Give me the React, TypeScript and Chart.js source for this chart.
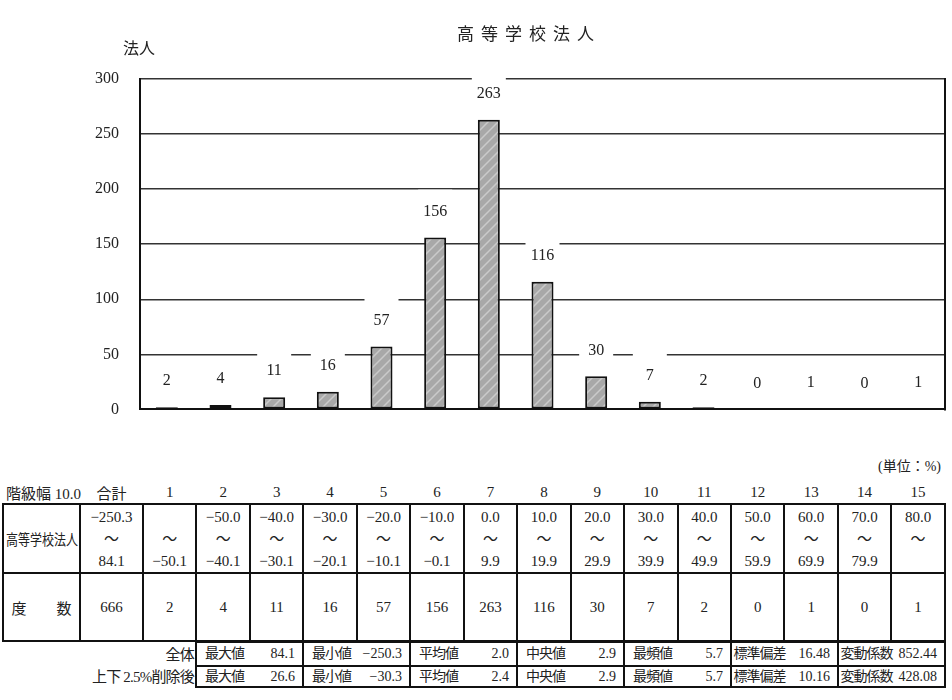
import React, { useEffect, useRef } from "react";
import { Chart, registerables, Plugin } from "chart.js";

Chart.register(...registerables);

// class numbers (categories) and frequencies
const classNumbers = ["1", "2", "3", "4", "5", "6", "7", "8", "9", "10", "11", "12", "13", "14", "15"];
const counts = [2, 4, 11, 16, 57, 156, 263, 116, 30, 7, 2, 0, 1, 0, 1];
const yTicks = [0, 50, 100, 150, 200, 250, 300];

// class ranges (unit: %)
const rangeLower = ["", "−50.0", "−40.0", "−30.0", "−20.0", "−10.0", "0.0", "10.0", "20.0", "30.0", "40.0", "50.0", "60.0", "70.0", "80.0"];
const rangeUpper = ["−50.1", "−40.1", "−30.1", "−20.1", "−10.1", "−0.1", "9.9", "19.9", "29.9", "39.9", "49.9", "59.9", "69.9", "79.9", ""];
const totalRange = ["−250.3", "84.1"];
const totalCount = 666;

// summary statistics
const statLabels = ["最大値", "最小値", "平均値", "中央値", "最頻値", "標準偏差", "変動係数"];
const statsAll = ["84.1", "−250.3", "2.0", "2.9", "5.7", "16.48", "852.44"];
const statsTrimmed = ["26.6", "−30.3", "2.4", "2.9", "5.7", "10.16", "428.08"];

const FONT = "'Liberation Serif', 'Noto Sans CJK JP', serif";

function makeHatch(): CanvasPattern | string {
  const c = document.createElement("canvas");
  c.width = 10;
  c.height = 10;
  const g = c.getContext("2d");
  if (!g) return "#a8a8a8";
  g.fillStyle = "#a8a8a8";
  g.fillRect(0, 0, 10, 10);
  g.strokeStyle = "#cacaca";
  g.lineWidth = 1.5;
  g.beginPath();
  g.moveTo(0, 10);
  g.lineTo(10, 0);
  g.moveTo(-2, 2);
  g.lineTo(2, -2);
  g.moveTo(8, 12);
  g.lineTo(12, 8);
  g.stroke();
  return g.createPattern(c, "repeat") || "#a8a8a8";
}

// value labels with white box behind, plus right frame line
const extrasPlugin: Plugin<"bar"> = {
  id: "extras",
  afterDatasetsDraw(chart) {
    const { ctx, chartArea } = chart;
    ctx.save();
    ctx.strokeStyle = "#111";
    ctx.lineWidth = 2;
    ctx.beginPath();
    ctx.moveTo(chartArea.right, chartArea.top - 1);
    ctx.lineTo(chartArea.right, chartArea.bottom + 1);
    ctx.stroke();

    const meta = chart.getDatasetMeta(0);
    meta.data.forEach((bar, i) => {
      const { x, y } = bar.getProps(["x", "y"], true) as { x: number; y: number };
      const ty = y - 26;
      ctx.fillStyle = "#fff";
      ctx.fillRect(x - 17, ty - 22, 34, 30);
      ctx.fillStyle = "#222";
      ctx.font = `16px ${FONT}`;
      ctx.textAlign = "center";
      ctx.textBaseline = "middle";
      ctx.fillText(String(counts[i]), x, ty);
    });
    ctx.restore();
  },
};

const HistChart: React.FC = () => {
  const chartRef = useRef<HTMLCanvasElement | null>(null);
  const chartInstanceRef = useRef<Chart | null>(null);

  useEffect(() => {
    if (!chartRef.current) return;
    const ctx = chartRef.current.getContext("2d");
    if (!ctx) return;

    chartInstanceRef.current = new Chart(ctx, {
      type: "bar",
      data: {
        labels: classNumbers,
        datasets: [
          {
            data: counts,
            backgroundColor: makeHatch(),
            borderColor: "#111",
            borderWidth: 2,
            borderSkipped: false,
            barPercentage: 0.41,
            categoryPercentage: 1,
          },
        ],
      },
      options: {
        animation: false,
        responsive: false,
        layout: { padding: { top: 79, right: 7, bottom: 22, left: 0 } },
        plugins: {
          legend: { display: false },
          tooltip: { enabled: false },
          title: { display: false },
        },
        scales: {
          x: { display: false },
          y: {
            min: 0,
            max: 300,
            afterFit: (scale) => {
              scale.width = 140;
            },
            afterBuildTicks: (scale) => {
              scale.ticks = yTicks.map((v) => ({ value: v }));
            },
            ticks: {
              color: "#222",
              padding: 21,
              font: { family: FONT, size: 16 },
            },
            grid: {
              color: (c) => (c.tick && c.tick.value === 0 ? "#111" : "#333"),
              lineWidth: (c) => (c.tick && c.tick.value === 0 ? 2 : 1.5),
              drawTicks: false,
            },
            border: { display: true, color: "#111", width: 2 },
          },
        },
      },
      plugins: [extrasPlugin],
    });

    return () => {
      chartInstanceRef.current?.destroy();
    };
  }, []);

  return <canvas ref={chartRef} width={952} height={440} style={{ display: "block", width: 952, height: 440 }}></canvas>;
};

const cellBorder = "2px solid #111";

const App: React.FC = () => {
  const colW = 802 / 15;
  return (
    <div
      style={{
        position: "absolute",
        left: 0,
        top: 0,
        width: 952,
        height: 700,
        background: "#fff",
        fontFamily: FONT,
        color: "#222",
        overflow: "hidden",
      }}
    >
      <div style={{ position: "absolute", left: 0, top: 0, width: 952, height: 440 }}>
        <HistChart />
      </div>
      <div
        style={{
          position: "absolute",
          left: 0,
          width: 1058,
          top: 20,
          textAlign: "center",
          fontSize: 17,
          letterSpacing: 7,
        }}
      >
        高等学校法人
      </div>
      <div style={{ position: "absolute", left: 123, top: 35, fontSize: 16 }}>法人</div>
      <div style={{ position: "absolute", left: 878, top: 455, fontSize: 14 }}>(単位：%)</div>

      <table
        style={{
          position: "absolute",
          left: 2,
          top: 482,
          width: 943,
          borderCollapse: "collapse",
          tableLayout: "fixed",
          fontSize: 15,
          textAlign: "center",
        }}
      >
        <colgroup>
          <col style={{ width: 77 }} />
          <col style={{ width: 63 }} />
          {classNumbers.map((c) => (
            <col key={c} style={{ width: colW }} />
          ))}
        </colgroup>
        <thead>
          <tr style={{ height: 22 }}>
            <th style={{ fontWeight: "normal", textAlign: "left", padding: "0 0 0 3px", whiteSpace: "nowrap" }}>
              階級幅 10.0
            </th>
            <th style={{ fontWeight: "normal", padding: 0 }}>合計</th>
            {classNumbers.map((c) => (
              <th key={c} style={{ fontWeight: "normal", padding: 0 }}>
                {c}
              </th>
            ))}
          </tr>
        </thead>
        <tbody>
          <tr style={{ height: 69 }}>
            <td style={{ border: cellBorder, padding: "0 0 0 2px", whiteSpace: "nowrap", textAlign: "left", overflow: "hidden" }}>
              <span style={{ display: "inline-block", fontSize: 15, transform: "scaleX(0.8)", transformOrigin: "left center" }}>
                高等学校法人
              </span>
            </td>
            <td style={{ border: cellBorder, padding: 0, lineHeight: "22px" }}>
              {totalRange[0]}
              <br />～<br />
              {totalRange[1]}
            </td>
            {classNumbers.map((c, i) => (
              <td key={c} style={{ border: cellBorder, padding: 0, lineHeight: "22px" }}>
                {rangeLower[i] || "\u00a0"}
                <br />～<br />
                {rangeUpper[i] || "\u00a0"}
              </td>
            ))}
          </tr>
          <tr style={{ height: 68 }}>
            <td style={{ border: cellBorder, padding: 0 }}>度　　数</td>
            <td style={{ border: cellBorder, padding: 0 }}>{totalCount}</td>
            {counts.map((v, i) => (
              <td key={i} style={{ border: cellBorder, padding: 0 }}>
                {v}
              </td>
            ))}
          </tr>
        </tbody>
      </table>

      <div
        style={{
          position: "absolute",
          left: 0,
          width: 194,
          top: 644,
          textAlign: "right",
          fontSize: 15,
          lineHeight: "22px",
          letterSpacing: -0.8,
        }}
      >
        全体
        <br />
        上下 2.5%削除後
      </div>
      <table
        style={{
          position: "absolute",
          left: 195,
          top: 641,
          width: 750,
          borderCollapse: "collapse",
          tableLayout: "fixed",
          fontSize: 14,
        }}
      >
        <colgroup>
          {statLabels.map((lab) => (
            <React.Fragment key={lab}>
              <col style={{ width: 56 }} />
              <col style={{ width: 51 }} />
            </React.Fragment>
          ))}
        </colgroup>
        <tbody>
          {[statsAll, statsTrimmed].map((row, r) => (
            <tr key={r} style={{ height: r === 0 ? 24 : 21 }}>
              {statLabels.map((lab, i) => (
                <React.Fragment key={i}>
                  <td
                    style={{
                      borderTop: cellBorder,
                      borderBottom: cellBorder,
                      borderLeft: cellBorder,
                      padding: 0,
                      lineHeight: "18px",
                      textAlign: "center",
                      letterSpacing: -1,
                      whiteSpace: "nowrap",
                    }}
                  >
                    {lab}
                  </td>
                  <td
                    style={{
                      borderTop: cellBorder,
                      borderBottom: cellBorder,
                      borderRight: cellBorder,
                      padding: "0 7px 0 0",
                      lineHeight: "18px",
                      textAlign: "right",
                      whiteSpace: "nowrap",
                    }}
                  >
                    {row[i]}
                  </td>
                </React.Fragment>
              ))}
            </tr>
          ))}
        </tbody>
      </table>
    </div>
  );
};

export default App;
